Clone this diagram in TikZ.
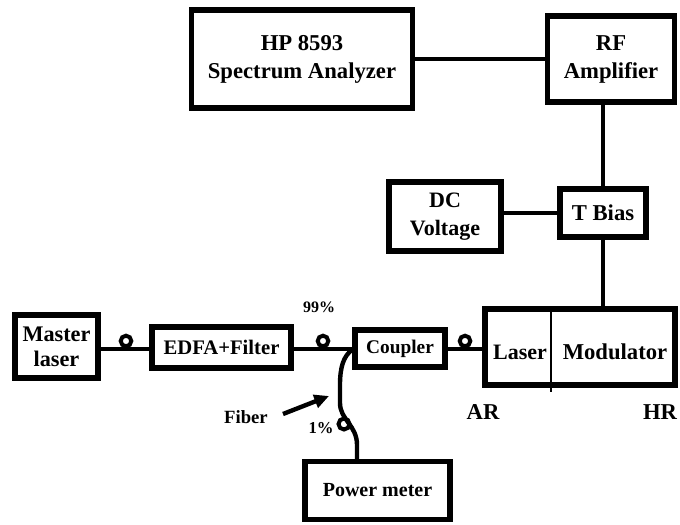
\documentclass[tikz,border=0pt]{standalone}
\usepackage{fontspec}
\setmainfont{Liberation Serif}
\usetikzlibrary{arrows.meta}
\begin{document}
\begin{tikzpicture}[x=0.75pt,y=-0.75pt,
  box/.style={draw=black,line width=4pt,rectangle,inner sep=0pt,align=center,font=\bfseries},
  wire/.style={line width=3.3pt},
  loopc/.style={line width=3pt},
  lbl/.style={inner sep=0pt,font=\bfseries}]
\useasboundingbox (0,0) rectangle (680,524);
% boxes
\node[box,minimum width=221*0.75pt,minimum height=98*0.75pt,font=\bfseries\fontsize{17}{21}\selectfont] (hp) at (302,59) {HP 8593\\Spectrum Analyzer};
\node[box,minimum width=127*0.75pt,minimum height=86*0.75pt,font=\bfseries\fontsize{17}{21}\selectfont] (rf) at (611,59) {RF\\Amplifier};
\node[box,minimum width=86*0.75pt,minimum height=48*0.75pt,font=\bfseries\fontsize{17}{21}\selectfont] (tb) at (603,213) {T Bias};
\node[box,minimum width=112*0.75pt,minimum height=69*0.75pt,font=\bfseries\fontsize{16.5}{21}\selectfont] (dc) at (445,216.5) {DC\\Voltage};
\node[box,minimum width=190*0.75pt,minimum height=76*0.75pt] (mod) at (580,347) {};
\node[box,minimum width=90*0.75pt,minimum height=37*0.75pt,font=\bfseries\fontsize{14.5}{18}\selectfont] (cp) at (400,348.5) {Coupler};
\node[box,minimum width=139*0.75pt,minimum height=41*0.75pt,font=\bfseries\fontsize{15.5}{18}\selectfont] (edfa) at (221.5,347.5) {EDFA+Filter};
\node[box,minimum width=83*0.75pt,minimum height=63*0.75pt,font=\bfseries\fontsize{16.7}{19}\selectfont] (ml) at (56.5,346.5) {Master\\laser};
\node[box,minimum width=145*0.75pt,minimum height=58*0.75pt,font=\bfseries\fontsize{15}{18}\selectfont] (pm) at (377.5,490.5) {Power meter};
% modulator interior
\coordinate (dv1) at (551,312);
\coordinate (dv2) at (551,392);
\draw[line width=1.5pt] (dv1) -- (dv2);
\node[lbl,font=\bfseries\fontsize{16.5}{18}\selectfont] (laser) at (520,352) {Laser};
\node[lbl,font=\bfseries\fontsize{17}{18}\selectfont] (modt) at (615,352) {Modulator};
% labels
\node[lbl,font=\bfseries\fontsize{17}{18}\selectfont] (ar) at (483,412) {AR};
\node[lbl,font=\bfseries\fontsize{17}{18}\selectfont] (hr) at (660,412) {HR};
\node[lbl,font=\bfseries\fontsize{12}{14}\selectfont] (p99) at (319,307) {99\%};
\node[lbl,font=\bfseries\fontsize{12.5}{14}\selectfont] (p1) at (321,428) {1\%};
\node[lbl,font=\bfseries\fontsize{14}{16}\selectfont] (fib) at (246,417) {Fiber};
% connectors
\draw[wire] (hp.east) -- (hp.east -| rf.west);
\draw[wire] (tb.north) -- (tb.north |- rf.south);
\draw[wire] (dc.east |- tb.west) -- (tb.west);
\draw[wire] (tb.south) -- (tb.south |- mod.north);
\draw[wire] (ml.east |- 0,349) -- (edfa.west |- 0,349);
\draw[wire] (edfa.east |- 0,349) -- (cp.west |- 0,349);
\draw[wire] (cp.east |- 0,349) -- (mod.west |- 0,349);
% loops
\coordinate (l1) at (126,341);
\coordinate (l2) at (323,341);
\coordinate (l3) at (465,341);
\coordinate (l4) at (344,424);
\draw[loopc] (l1) circle[radius=5.3*0.75pt];
\draw[loopc] (l2) circle[radius=5.3*0.75pt];
\draw[loopc] (l3) circle[radius=5.3*0.75pt];
\draw[loopc] (l4) circle[radius=5.5*0.75pt];
% fiber tap
\coordinate (fs) at (353,349);
\draw[wire] (fs) .. controls (343,356) and (340,368) .. (340,385) -- (340,403)
  .. controls (340,420) and (357,425) .. (357,445) -- (pm.north -| 357,0);
% arrow
\coordinate (a1) at (283,414);
\coordinate (a2) at (329,396);
\draw[line width=3.3pt,-{Triangle[length=11pt,width=10pt]}] (a1) -- (a2);
\end{tikzpicture}
\end{document}
